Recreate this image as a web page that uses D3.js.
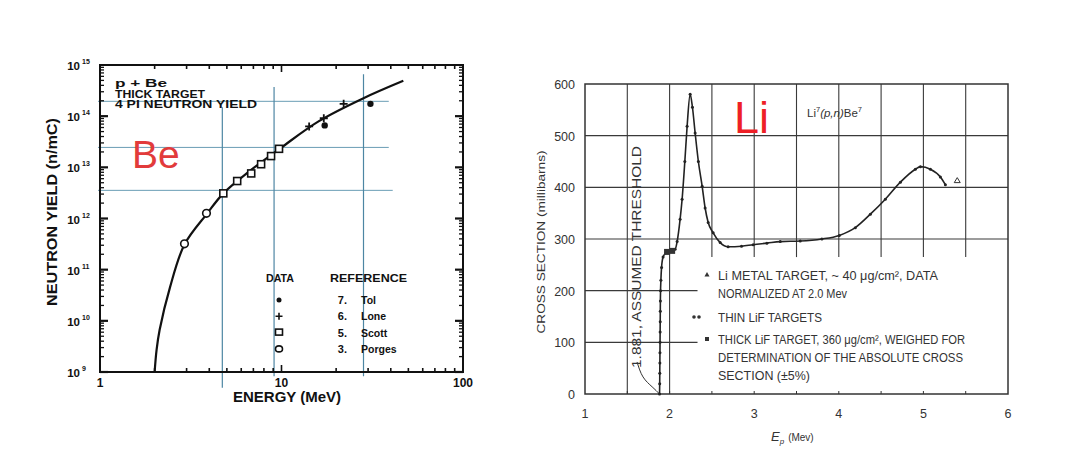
<!DOCTYPE html>
<html><head><meta charset="utf-8">
<script src="https://cdn.jsdelivr.net/npm/d3@7"></script>
<style>
html,body{margin:0;padding:0;background:#fff;}
svg{display:block;font-family:"Liberation Sans",Arial,sans-serif;}
</style></head>
<body>
<svg id="c" width="1066" height="460"></svg>
<script>
// ---------- LEFT PANEL DATA (p + Be thick target neutron yield) ----------
const beCurveE     = [2.00, 2.05, 2.13, 2.43, 2.92, 3.90, 4.78, 6.63, 10.0, 16.0, 28.3, 46.9];
const beCurveYield = [1e9, 2.7e9, 6.6e9, 4.5e10, 3.1e11, 1.26e12, 3.1e12, 8.3e12, 2.45e13, 7.9e13, 2.24e14, 4.9e14];
const tolE   = [17.3, 30.9];
const tolY   = [6.6e13, 1.74e14];
const loneE  = [14.2, 17.1, 22.0];
const loneY  = [6.3e13, 9.1e13, 1.74e14];
const scottE = [4.78, 5.70, 6.81, 7.72, 8.76, 9.69];
const scottY = [3.1e12, 5.4e12, 7.6e12, 1.15e13, 1.66e13, 2.3e13];
const porgesE = [2.92, 3.86];
const porgesY = [3.2e11, 1.26e12];
const beXTicks = [1, 10, 100];
const beYExponents = [9, 10, 11, 12, 13, 14, 15];
// hand-drawn guide lines
const guideHYield = [1.95e14, 2.45e13, 3.55e12];
const guideHEnd   = [39, 39, 41];
const guideVE     = [4.72, 9.1, 28.3];
const guideVTop   = [1.5e14, 3.7e14, 6.6e14];
const guideVBot   = [4.9e8, 8.3e8, 8.3e8];
const beLegendNum = ["7.", "6.", "5.", "3."];
const beLegendRef = ["Tol", "Lone", "Scott", "Porges"];
const beNotes = ["p  +  Be", "THICK TARGET", "4 PI NEUTRON YIELD"];

// ---------- RIGHT PANEL DATA (Li7(p,n)Be7 cross section) ----------
const liE = [1.881, 1.883, 1.884, 1.885, 1.886, 1.887, 1.888, 1.889, 1.890, 1.891, 1.893, 1.897, 1.905, 1.923, 1.96, 2.00, 2.065, 2.089, 2.124, 2.148, 2.18, 2.207, 2.243, 2.27, 2.302, 2.34, 2.385, 2.42, 2.456, 2.515, 2.598, 2.692, 2.85, 2.988, 3.15, 3.308, 3.544, 3.8, 4.006, 4.195, 4.373, 4.55, 4.728, 4.905, 4.964, 5.083, 5.201, 5.26];
const liS = [0, 20, 40, 60, 80, 100, 120, 140, 160, 180, 200, 220, 245, 265, 274, 277, 280, 295, 338, 377, 450, 518, 580, 555, 505, 450, 402, 360, 332, 312, 293, 285, 286, 289, 292, 295, 296, 300, 307, 322, 348, 377, 410, 435, 440, 435, 420, 405];
const liThickE = [1.97, 2.03];
const liThickS = [275, 277];
const liMetalE = [5.40];
const liMetalS = [413];
const thresholdPtrE = [1.615, 1.686, 1.793, 1.881];
const thresholdPtrS = [62, 33, 14, 0];
const liXTicks = [1, 2, 3, 4, 5, 6];
const liYTicks = [0, 100, 200, 300, 400, 500, 600];
const liLegend = [
  "Li METAL TARGET, ~ 40 \u03BCg/cm\u00B2, DATA",
  "NORMALIZED AT 2.0 Mev",
  "THIN LiF TARGETS",
  "THICK LiF TARGET, 360 \u03BCg/cm\u00B2, WEIGHED FOR",
  "DETERMINATION OF THE ABSOLUTE CROSS",
  "SECTION (\u00B15%)"
];

const svg = d3.select("#c");

// ================= LEFT PANEL =================
const xL = d3.scaleLog().domain([1, 100]).range([100, 463]);
const yL = d3.scaleLog().domain([1e9, 1e15]).range([372, 65]);
const gL = svg.append("g");

const guideColor = "#4d86a3";
guideHYield.forEach((v, i) => {
  gL.append("line").attr("x1", xL(1) - 2).attr("x2", xL(guideHEnd[i]))
    .attr("y1", yL(v)).attr("y2", yL(v))
    .attr("stroke", "#6a9db5").attr("stroke-width", 1);
});
guideVE.forEach((e, i) => {
  gL.append("line").attr("x1", xL(e)).attr("x2", xL(e))
    .attr("y1", yL(guideVTop[i])).attr("y2", yL(guideVBot[i]))
    .attr("stroke", guideColor).attr("stroke-width", 1.2);
});

gL.append("rect").attr("x", xL(1)).attr("y", yL(1e15))
  .attr("width", xL(100) - xL(1)).attr("height", yL(1e9) - yL(1e15))
  .attr("fill", "none").attr("stroke", "#111").attr("stroke-width", 2);

[1, 10].forEach(d => {
  for (let m = 1; m <= 9; m++) {
    const x = xL(d * m);
    const len = m === 1 ? 7 : 4;
    gL.append("line").attr("x1", x).attr("x2", x).attr("y1", yL(1e9)).attr("y2", yL(1e9) - len)
      .attr("stroke", "#111").attr("stroke-width", 1.6);
    gL.append("line").attr("x1", x).attr("x2", x).attr("y1", yL(1e15)).attr("y2", yL(1e15) + len)
      .attr("stroke", "#111").attr("stroke-width", 1.6);
  }
});
beYExponents.forEach(p => {
  if (p === 15) return;
  for (let m = 1; m <= 9; m++) {
    const y = yL(m * Math.pow(10, p));
    const len = m === 1 ? 8 : 4;
    gL.append("line").attr("x1", xL(1)).attr("x2", xL(1) + len).attr("y1", y).attr("y2", y)
      .attr("stroke", "#111").attr("stroke-width", m === 1 ? 2.2 : 1.3);
    gL.append("line").attr("x1", xL(100)).attr("x2", xL(100) - len).attr("y1", y).attr("y2", y)
      .attr("stroke", "#111").attr("stroke-width", m === 1 ? 2.2 : 1.3);
  }
});

beXTicks.forEach(t => {
  gL.append("text").attr("x", xL(t)).attr("y", 387).attr("text-anchor", "middle")
    .attr("font-size", 12).attr("font-weight", "bold").attr("fill", "#111").text(t);
});
beYExponents.forEach(p => {
  gL.append("text").attr("x", 80).attr("y", yL(Math.pow(10, p)) + 5)
    .attr("text-anchor", "end").attr("font-size", 11.5).attr("font-weight", "bold").attr("fill", "#111").text("10");
  gL.append("text").attr("x", 82).attr("y", yL(Math.pow(10, p)) - 1)
    .attr("font-size", 7).attr("font-weight", "bold").attr("fill", "#111").text(p);
});

gL.append("text").attr("x", 287).attr("y", 402).attr("text-anchor", "middle")
  .attr("font-size", 15).attr("font-weight", "bold").attr("fill", "#111").text("ENERGY  (MeV)");
gL.append("text").attr("transform", "translate(57,212) rotate(-90)").attr("text-anchor", "middle")
  .attr("font-size", 14).attr("font-weight", "bold").attr("fill", "#111")
  .attr("textLength", 188).attr("lengthAdjust", "spacingAndGlyphs").text("NEUTRON YIELD  (n/mC)");

const noteW = [52, 90, 142];
beNotes.forEach((s, i) => {
  gL.append("text").attr("x", 115).attr("y", 87 + i * 10.5).attr("font-size", 10.5)
    .attr("font-weight", "bold").attr("fill", "#111")
    .attr("textLength", noteW[i]).attr("lengthAdjust", "spacingAndGlyphs").text(s);
});

const beLine = d3.line().x(d => xL(d[0])).y(d => yL(d[1])).curve(d3.curveCatmullRom.alpha(0.5));
gL.append("path").datum(beCurveE.map((e, i) => [e, beCurveYield[i]]))
  .attr("d", beLine).attr("fill", "none").attr("stroke", "#111").attr("stroke-width", 2.2);

tolE.forEach((e, i) => gL.append("circle").attr("cx", xL(e)).attr("cy", yL(tolY[i])).attr("r", 3.2).attr("fill", "#111"));
loneE.forEach((e, i) => {
  const x = xL(e), y = yL(loneY[i]);
  gL.append("path").attr("d", `M${x-4},${y}H${x+4}M${x},${y-4}V${y+4}`).attr("stroke", "#111").attr("stroke-width", 1.8);
});
scottE.forEach((e, i) => gL.append("rect").attr("x", xL(e) - 3.5).attr("y", yL(scottY[i]) - 3.5)
  .attr("width", 7).attr("height", 7).attr("fill", "#fff").attr("stroke", "#111").attr("stroke-width", 1.6));
porgesE.forEach((e, i) => gL.append("circle").attr("cx", xL(e)).attr("cy", yL(porgesY[i])).attr("r", 3.8)
  .attr("fill", "#fff").attr("stroke", "#111").attr("stroke-width", 1.6));

gL.append("text").attr("x", 266).attr("y", 282).attr("font-size", 10)
  .attr("font-weight", "bold").attr("fill", "#111").attr("textLength", 28).attr("lengthAdjust", "spacingAndGlyphs").text("DATA");
gL.append("text").attr("x", 330).attr("y", 282).attr("font-size", 10)
  .attr("font-weight", "bold").attr("fill", "#111").attr("textLength", 77).attr("lengthAdjust", "spacingAndGlyphs").text("REFERENCE");
beLegendRef.forEach((r, i) => {
  const y = 303 + i * 16.3;
  const x = 279;
  if (i === 0) gL.append("circle").attr("cx", x).attr("cy", y - 3).attr("r", 2.5).attr("fill", "#111");
  if (i === 1) gL.append("path").attr("d", `M${x-3.5},${y-3}H${x+3.5}M${x},${y-6.5}V${y+0.5}`).attr("stroke", "#111").attr("stroke-width", 1.6);
  if (i === 2) gL.append("rect").attr("x", x - 3.5).attr("y", y - 6.5).attr("width", 7).attr("height", 6).attr("fill", "none").attr("stroke", "#111").attr("stroke-width", 1.6);
  if (i === 3) gL.append("ellipse").attr("cx", x).attr("cy", y - 3).attr("rx", 3.5).attr("ry", 3).attr("fill", "none").attr("stroke", "#111").attr("stroke-width", 1.6);
  gL.append("text").attr("x", 347).attr("y", y + 1).attr("text-anchor", "end").attr("font-size", 11)
    .attr("font-weight", "bold").attr("fill", "#111").text(beLegendNum[i]);
  gL.append("text").attr("x", 361).attr("y", y + 1).attr("font-size", 10.5)
    .attr("font-weight", "bold").attr("fill", "#111").text(r);
});

gL.append("text").attr("x", 132).attr("y", 168).attr("font-size", 39).attr("fill", "#e23b3b").text("Be");

// ================= RIGHT PANEL =================
const xR = d3.scaleLinear().domain([1, 6]).range([585, 1008]);
const yR = d3.scaleLinear().domain([0, 600]).range([394, 84]);
const gR = svg.append("g");
const gridC = "#3a3a3a";

[1.5, 2.0].forEach(v => gR.append("line").attr("x1", xR(v)).attr("x2", xR(v)).attr("y1", yR(600)).attr("y2", yR(0))
  .attr("stroke", gridC).attr("stroke-width", 1.1));
[2.5, 3.0, 3.5, 4.0, 4.5, 5.0, 5.5].forEach(v => gR.append("line").attr("x1", xR(v)).attr("x2", xR(v)).attr("y1", yR(600)).attr("y2", yR(265))
  .attr("stroke", gridC).attr("stroke-width", 1.1));
[300, 400, 500].forEach(v => gR.append("line").attr("x1", xR(1)).attr("x2", xR(6)).attr("y1", yR(v)).attr("y2", yR(v))
  .attr("stroke", gridC).attr("stroke-width", 1.1));
[100, 200].forEach(v => gR.append("line").attr("x1", xR(1)).attr("x2", xR(2.33)).attr("y1", yR(v)).attr("y2", yR(v))
  .attr("stroke", gridC).attr("stroke-width", 1.1));

gR.append("rect").attr("x", xR(1)).attr("y", yR(600)).attr("width", xR(6) - xR(1)).attr("height", yR(0) - yR(600))
  .attr("fill", "none").attr("stroke", "#333").attr("stroke-width", 1.5);
d3.range(1.5, 6, 0.5).forEach(v => gR.append("line").attr("x1", xR(v)).attr("x2", xR(v)).attr("y1", yR(0)).attr("y2", yR(0) - 3)
  .attr("stroke", "#333").attr("stroke-width", 1));

liYTicks.forEach(t => gR.append("text").attr("x", 575).attr("y", yR(t) + 5).attr("text-anchor", "end")
  .attr("font-size", 12.5).attr("fill", "#333").text(t));
liXTicks.forEach(t => gR.append("text").attr("x", xR(t)).attr("y", 418).attr("text-anchor", "middle")
  .attr("font-size", 12.5).attr("fill", "#333").text(t));

gR.append("text").attr("transform", "translate(545,242) rotate(-90)").attr("text-anchor", "middle")
  .attr("font-size", 11.5).attr("fill", "#333").attr("textLength", 183).attr("lengthAdjust", "spacingAndGlyphs")
  .text("CROSS SECTION (millibarns)");
const xt = gR.append("text").attr("x", 771).attr("y", 441).attr("fill", "#333");
xt.append("tspan").attr("font-size", 13).attr("font-style", "italic").text("E");
xt.append("tspan").attr("font-size", 8).attr("font-style", "italic").attr("dy", 3).text("p");
xt.append("tspan").attr("font-size", 10).attr("dy", -3).attr("dx", 4).text("(Mev)");

gR.append("text").attr("transform", "translate(641,368) rotate(-90)").attr("font-size", 12)
  .attr("fill", "#333").attr("textLength", 222).attr("lengthAdjust", "spacingAndGlyphs")
  .text("1.881, ASSUMED THRESHOLD");
gR.append("path").datum(thresholdPtrE.map((e, i) => [e, thresholdPtrS[i]]))
  .attr("d", d3.line().x(d => xR(d[0])).y(d => yR(d[1])).curve(d3.curveNatural))
  .attr("fill", "none").attr("stroke", "#333").attr("stroke-width", 1);

const rl = gR.append("text").attr("x", 807).attr("y", 117).attr("font-size", 11.5).attr("fill", "#333");
rl.append("tspan").text("Li");
rl.append("tspan").attr("font-size", 7.5).attr("dy", -5).text("7");
rl.append("tspan").attr("dy", 5).attr("font-style", "italic").text("(p,n)");
rl.append("tspan").text("Be");
rl.append("tspan").attr("font-size", 7.5).attr("dy", -5).text("7");

const liLine = d3.line().x(d => xR(d[0])).y(d => yR(d[1])).curve(d3.curveMonotoneX);
gR.append("path").datum(liE.map((e, i) => [e, liS[i]])).attr("d", liLine)
  .attr("fill", "none").attr("stroke", "#222").attr("stroke-width", 1.6);
liE.forEach((e, i) => gR.append("circle").attr("cx", xR(e)).attr("cy", yR(liS[i])).attr("r", 1.5).attr("fill", "#222"));
liThickE.forEach((e, i) => gR.append("rect").attr("x", xR(e) - 3).attr("y", yR(liThickS[i]) - 3)
  .attr("width", 6).attr("height", 6).attr("fill", "#333"));
liMetalE.forEach((e, i) => {
  const x = xR(e), y = yR(liMetalS[i]);
  gR.append("path").attr("d", `M${x},${y-3}L${x+3},${y+2}L${x-3},${y+2}Z`).attr("fill", "none").attr("stroke", "#333").attr("stroke-width", 1);
});

const lgY = [280, 298, 322, 344, 362, 380];
const lgW = [220, 129, 104, 247, 245, 92];
liLegend.forEach((s, i) => {
  gR.append("text").attr("x", 718).attr("y", lgY[i]).attr("font-size", 12.5).attr("fill", "#333")
    .attr("textLength", lgW[i]).attr("lengthAdjust", "spacingAndGlyphs").text(s);
});
gR.append("path").attr("d", `M707,272L709.5,276.5L704.5,276.5Z`).attr("fill", "#333");
gR.append("circle").attr("cx", 694).attr("cy", 317).attr("r", 1.8).attr("fill", "#333");
gR.append("circle").attr("cx", 699).attr("cy", 317).attr("r", 1.8).attr("fill", "#333");
gR.append("rect").attr("x", 705).attr("y", 337).attr("width", 4).attr("height", 4).attr("fill", "#333");

gR.append("text").attr("x", 734).attr("y", 133).attr("font-size", 45).attr("fill", "#ee1f26").text("Li");
</script>
</body></html>
